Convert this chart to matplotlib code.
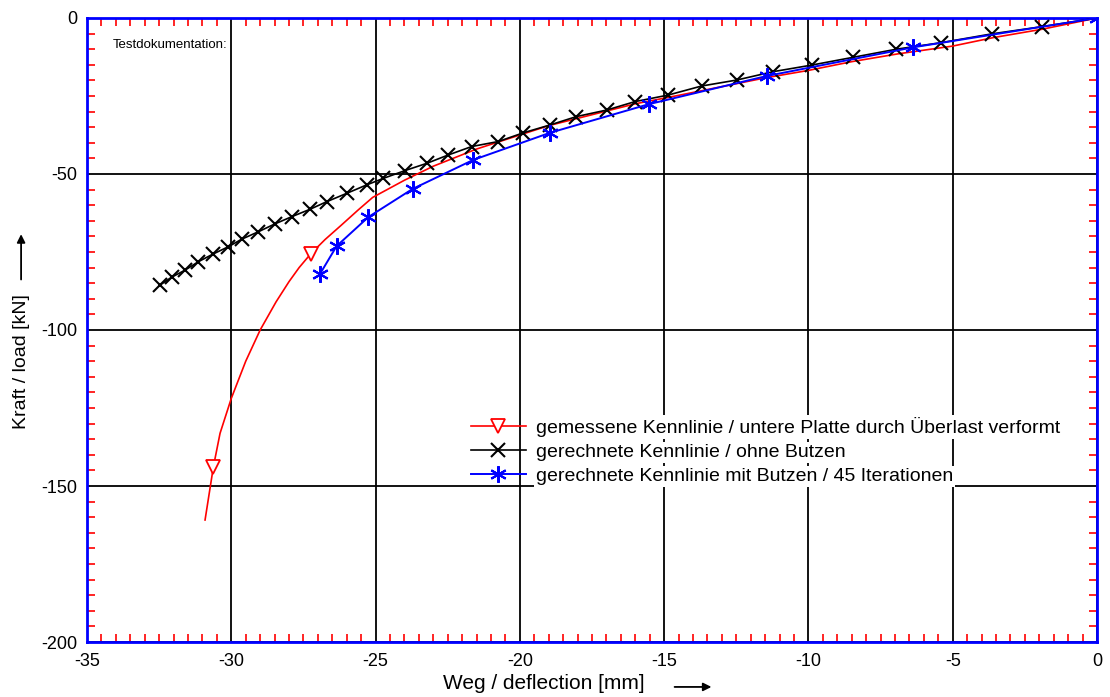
import numpy as np
import matplotlib.pyplot as plt
from matplotlib.ticker import MultipleLocator

plt.rcParams['font.family'] = ['Liberation Sans', 'DejaVu Sans']
plt.rcParams['axes.unicode_minus'] = False

# measured curve (red)
meas_x = [0, -1.9, -3.6, -5.0, -6.9, -8.5, -10.0, -11.5, -13.0, -14.5, -16.0,
          -17.5, -19.0, -20.0, -21.5, -23.0, -24.0, -25.1, -25.6, -26.2,
          -26.75, -27.25, -27.65, -28.0, -28.45, -29.0, -29.5, -30.0, -30.39,
          -30.62, -30.91]
meas_y = [0, -3.6, -6.3, -9.0, -11.5, -14.0, -16.8, -19.2, -22.0, -24.8, -27.5,
          -31.0, -34.5, -37.5, -42.0, -47.5, -52.0, -57.5, -61.5, -66.5,
          -71.0, -75.6, -80.0, -84.5, -91.0, -100.0, -110.0, -121.9, -133.1,
          -143.8, -160.9]
meas_marks = [21, 29]

# calculated without slug (black)
calc_x = [0, -1.92, -3.65, -5.39, -6.95, -8.45, -9.89, -11.22, -12.49, -13.70,
          -14.86, -16.01, -16.99, -18.04, -18.96, -19.88, -20.75, -21.67,
          -22.48, -23.23, -23.98, -24.73, -25.31, -26.0, -26.7, -27.27,
          -27.91, -28.49, -29.06, -29.64, -30.10, -30.62, -31.14, -31.60,
          -32.07, -32.47]
calc_y = [0, -2.8, -5.1, -7.9, -10.0, -12.6, -15.1, -17.2, -19.9, -21.8,
          -24.7, -26.8, -29.5, -31.6, -34.3, -36.8, -39.6, -41.2, -43.9,
          -46.6, -48.9, -51.4, -53.5, -56.2, -58.9, -61.3, -63.7, -66.0,
          -68.5, -70.9, -73.3, -75.6, -78.1, -80.8, -83.1, -85.6]

# calculated with slug, 45 iterations (blue)
iter_x = [0, -6.37, -11.45, -15.52, -18.96, -21.62, -23.72, -25.25, -26.35, -26.93]
iter_y = [0, -9.4, -18.6, -27.6, -36.8, -45.5, -54.8, -63.8, -73.1, -82.1]

fig = plt.figure(figsize=(11.1, 6.97), dpi=100)
ax = fig.add_axes([0.0784, 0.0789, 0.9099, 0.8953])

ax.plot(meas_x, meas_y, color='red', lw=1.2, marker='v', markersize=10,
        markerfacecolor='white', markeredgecolor='red', markeredgewidth=1.3,
        markevery=meas_marks, zorder=3,
        label='gemessene Kennlinie / untere Platte durch Überlast verformt')
ax.plot(calc_x, calc_y, color='black', lw=1.2, marker='x', markersize=10,
        markeredgewidth=1.5, markevery=slice(1, None), zorder=4,
        label='gerechnete Kennlinie / ohne Butzen')
ax.plot(iter_x, iter_y, color='blue', lw=1.4, marker=(6, 2, 0), markersize=12,
        markeredgewidth=1.5, zorder=5,
        label='gerechnete Kennlinie mit Butzen / 45 Iterationen')

ax.set_xlim(-35, 0)
ax.set_ylim(-200, 0)
ax.xaxis.set_major_locator(MultipleLocator(5))
ax.xaxis.set_minor_locator(MultipleLocator(0.5))
ax.yaxis.set_major_locator(MultipleLocator(50))
ax.yaxis.set_minor_locator(MultipleLocator(5))
ax.grid(which='major', color='black', lw=1.3)
ax.set_axisbelow(True)
ax.tick_params(which='major', length=0, labelsize=13)
ax.tick_params(axis='x', which='major', pad=8)
ax.tick_params(axis='y', which='major', pad=7)
ax.tick_params(which='minor', direction='in', length=6, width=1.2,
               color='red', top=True, right=True)
for s in ax.spines.values():
    s.set_color('blue')
    s.set_linewidth(2)

ax.text(0.025, 0.957, 'Testdokumentation:', transform=ax.transAxes,
        fontsize=9.5, va='center')

# axis labels with arrows
ax.text(0.452, -0.066, 'Weg / deflection [mm]', transform=ax.transAxes,
        fontsize=15, ha='center', va='center')
ax.annotate('', xy=(0.621, -0.072), xytext=(0.579, -0.072),
            xycoords='axes fraction', annotation_clip=False,
            arrowprops=dict(arrowstyle='-|>', color='black', lw=1.3,
                            mutation_scale=12))
fig.text(0.019, 0.481, 'Kraft / load [kN]', rotation=90, fontsize=14,
         ha='center', va='center')
ax.annotate('', xy=(0.019, 0.668), xytext=(0.019, 0.595),
            xycoords='figure fraction', annotation_clip=False,
            arrowprops=dict(arrowstyle='-|>', color='black', lw=1.3,
                            mutation_scale=12))

leg = ax.legend(loc='upper left', bbox_to_anchor=(0.372, 0.373),
                frameon=False, fontsize=14, handlelength=2.85,
                handletextpad=0.5, labelspacing=0.33, borderaxespad=0)
for t in leg.get_texts():
    t.set_bbox(dict(facecolor='white', edgecolor='none', pad=1.5))

plt.savefig('out.png', dpi=100)
